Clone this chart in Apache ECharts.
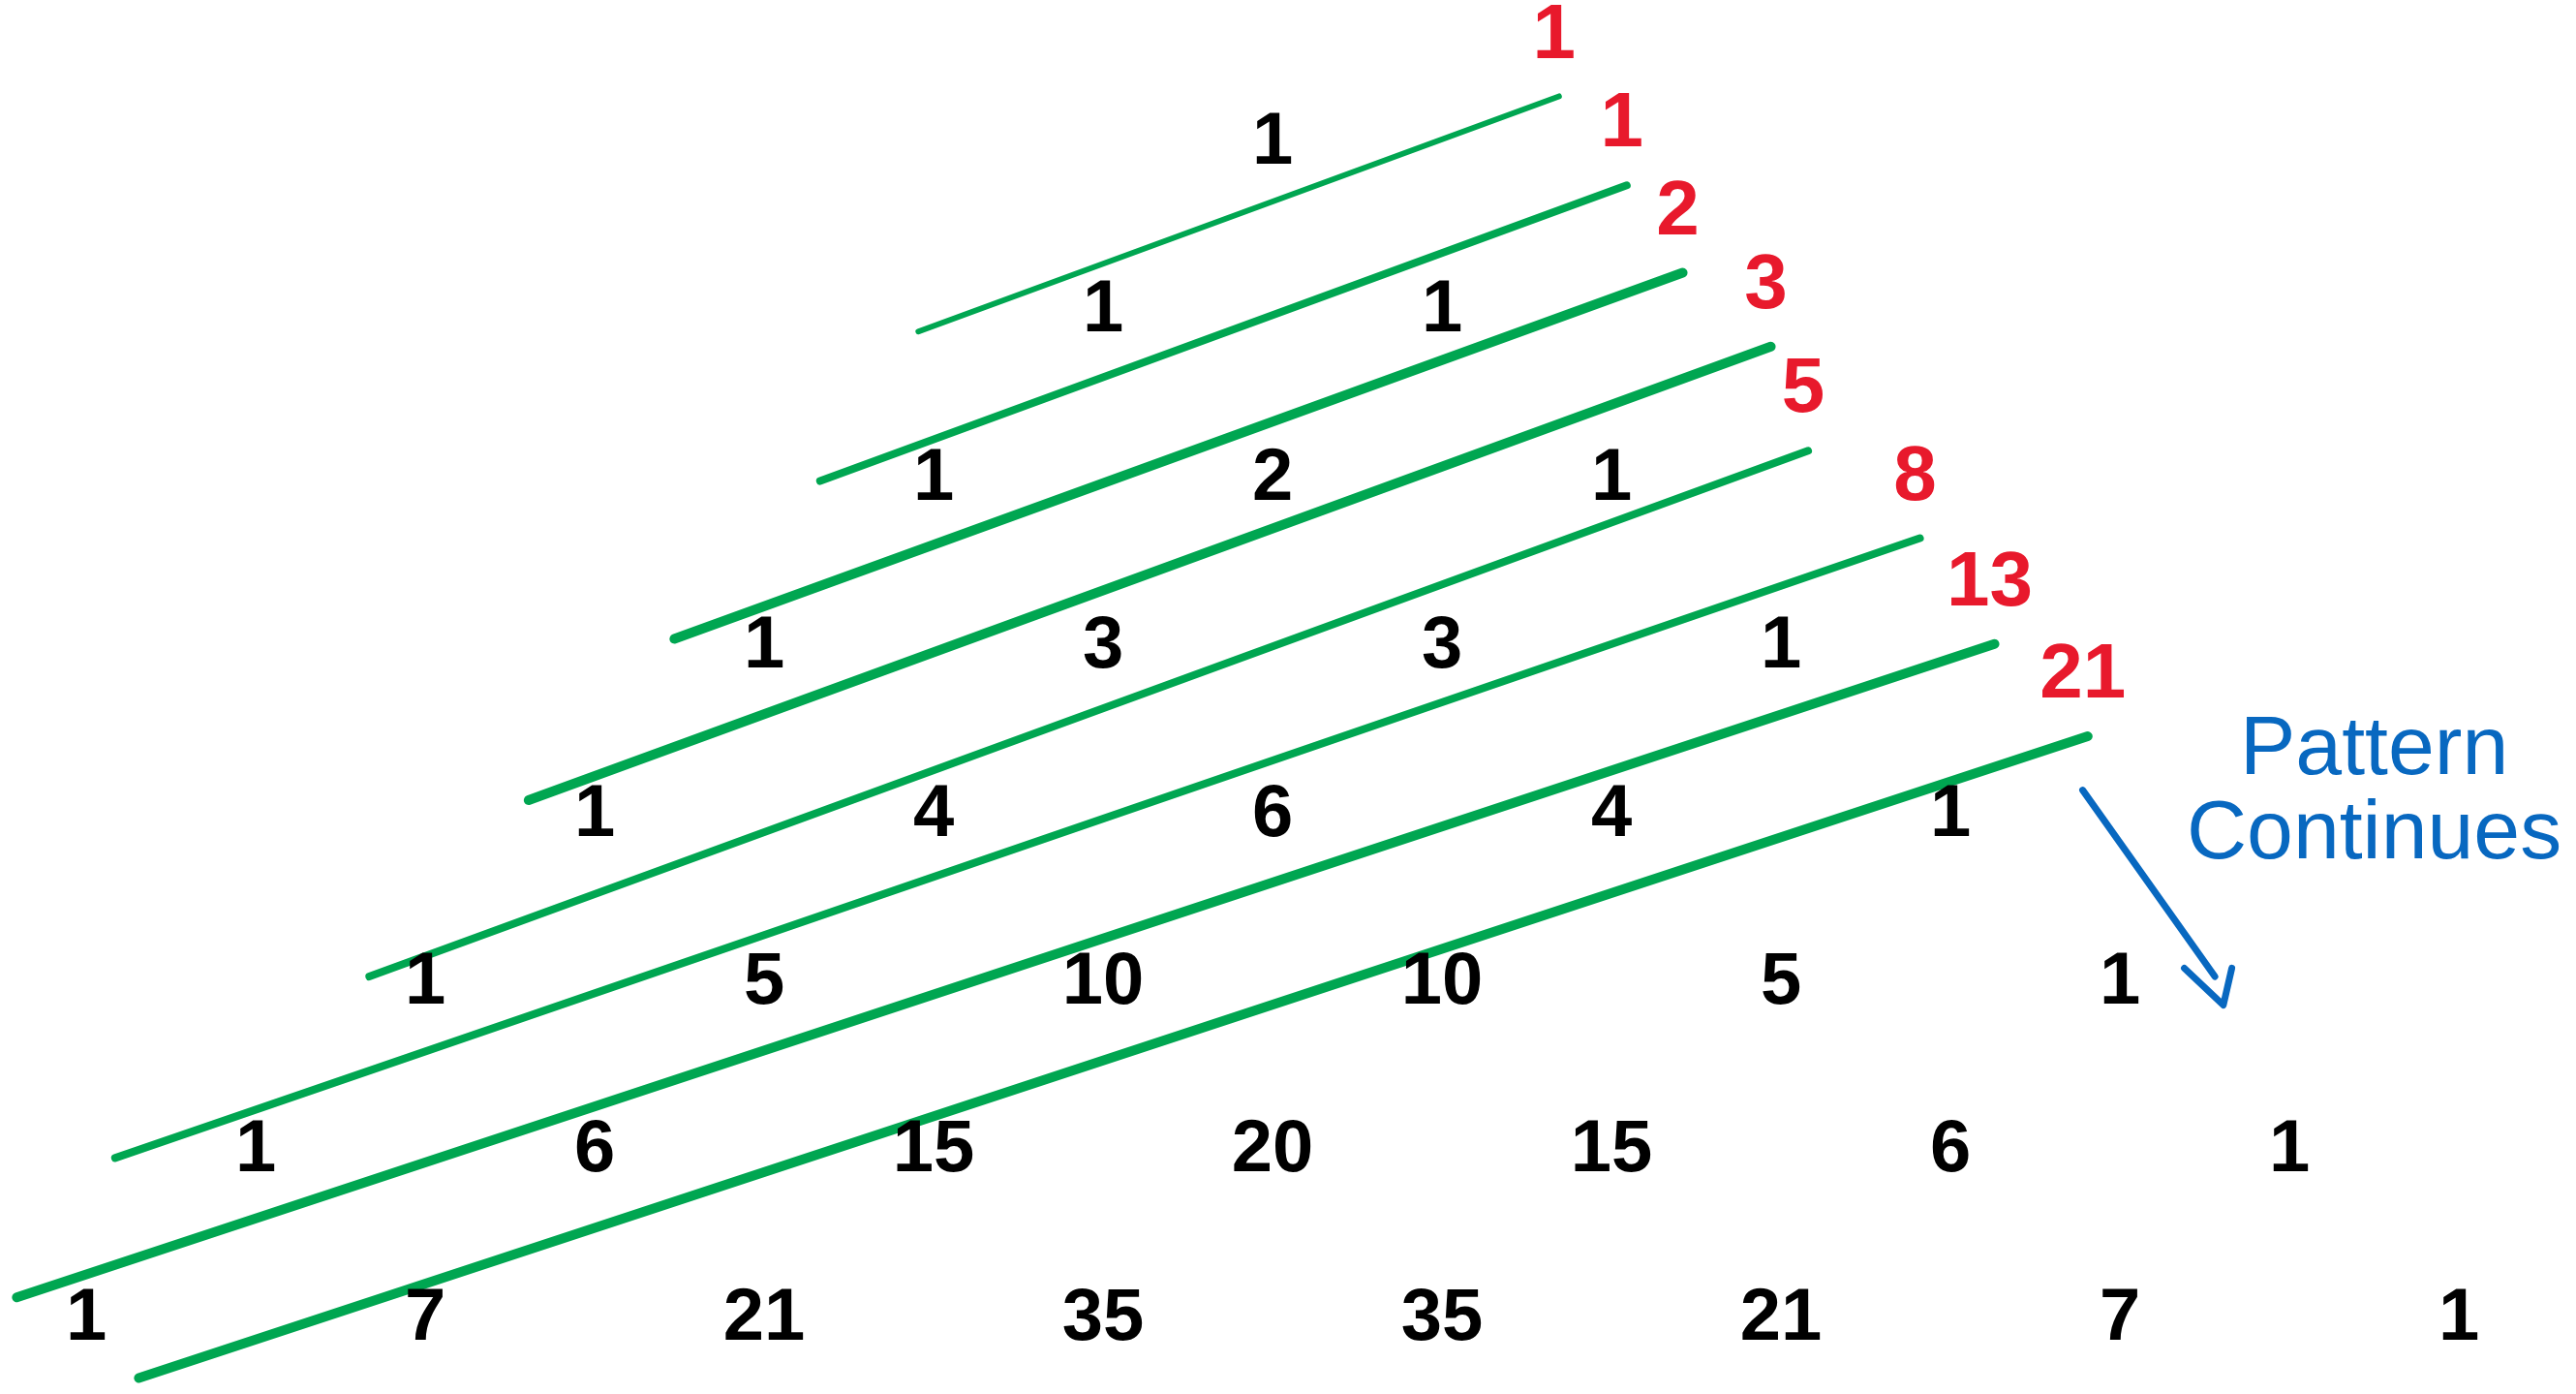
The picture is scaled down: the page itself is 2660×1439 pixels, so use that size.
<!DOCTYPE html>
<html><head><meta charset="utf-8">
<script src="https://cdn.jsdelivr.net/npm/echarts@6/dist/echarts.min.js"></script>
<style>html,body{margin:0;padding:0;background:#fff}#c{width:2660px;height:1439px}</style>
</head><body><div id="c"></div>
<script>
// Pascal's triangle rows
const triangleRows = [
  [1],
  [1, 1],
  [1, 2, 1],
  [1, 3, 3, 1],
  [1, 4, 6, 4, 1],
  [1, 5, 10, 10, 5, 1],
  [1, 6, 15, 20, 15, 6, 1],
  [1, 7, 21, 35, 35, 21, 7, 1]
];
// Sums along the shallow diagonals (Fibonacci numbers, in red)
const diagonalSums = [1, 1, 2, 3, 5, 8, 13, 21];
// Green separator strokes, in triangle units (u = half-column offset, row)
const sepStartU   = [-2.09, -2.67, -3.53, -4.39, -5.33, -6.83, -7.41, -6.69];
const sepStartRow = [ 1.12,  2.01,  2.95,  3.91,  4.96,  6.04,  6.87,  7.35];
const sepEndU     = [ 1.69,  2.09,  2.42,  2.94,  3.16,  3.82,  4.26,  4.81];
const sepEndRow   = [-0.28,  0.25,  0.77,  1.21,  1.83,  2.35,  2.98,  3.53];
// Note and arrow
const noteText = ['Pattern', 'Continues'];
const noteAnchor = [6.5, 3.87];
const arrowShaft = [[4.78, 3.85], [5.56, 4.96]];
const arrowHead = [[5.38, 4.91], [5.61, 5.13], [5.66, 4.91]];

const GREEN = '#00a651', RED = '#e8192c', BLUE = '#0868c0';
const sepWidths = [6, 8, 10, 10, 8, 8, 10, 10];
const NUM_FONT = '"Liberation Sans", Arial, sans-serif';

const numberData = [];
triangleRows.forEach((row, r) => row.forEach((v, k) => numberData.push([2 * k - r, r, v])));
const sumData = diagonalSums.map((s, i) => [sepEndU[i], sepEndRow[i], s]);

const hiddenItem = { color: 'transparent', opacity: 1 };
const series = [];
sepStartU.forEach((u, i) => {
  series.push({
    type: 'line', silent: true, symbol: 'none', z: 2,
    data: [[u, sepStartRow[i]], [sepEndU[i], sepEndRow[i]]],
    lineStyle: { color: GREEN, width: sepWidths[i], cap: 'round', opacity: 1 }
  });
});
series.push({
  type: 'scatter', silent: true, z: 5, symbolSize: 1,
  itemStyle: hiddenItem,
  data: numberData,
  label: {
    show: true, position: 'inside', formatter: p => String(p.value[2]),
    color: '#000000', opacity: 1, fontSize: 76, fontWeight: 'bold',
    fontFamily: NUM_FONT
  }
});
series.push({
  type: 'scatter', silent: true, z: 5, symbolSize: 1,
  itemStyle: hiddenItem,
  data: sumData,
  label: {
    show: true, position: 'inside', offset: [-5, -62], formatter: p => String(p.value[2]),
    color: RED, opacity: 1, fontSize: 80, fontWeight: 'bold',
    fontFamily: NUM_FONT
  }
});
series.push({
  type: 'scatter', silent: true, z: 5, symbolSize: 1,
  itemStyle: hiddenItem,
  data: [[noteAnchor[0], noteAnchor[1]]],
  label: {
    show: true, position: 'inside', formatter: noteText.join('\n'),
    color: BLUE, opacity: 1, fontSize: 86, lineHeight: 87, align: 'center',
    fontFamily: '"Liberation Sans", sans-serif'
  }
});
series.push({
  type: 'line', silent: true, symbol: 'none', z: 3, data: arrowShaft,
  lineStyle: { color: BLUE, width: 7, cap: 'round', opacity: 1 }
});
series.push({
  type: 'line', silent: true, symbol: 'none', z: 3, data: arrowHead,
  lineStyle: { color: BLUE, width: 7, cap: 'round', join: 'round', opacity: 1 }
});

const chart = echarts.init(document.getElementById('c'));
chart.setOption({
  backgroundColor: '#ffffff',
  animation: false,
  grid: { left: 0, right: 0, top: 0, bottom: 0 },
  xAxis: { type: 'value', min: -7.509, max: 7.691, show: false },
  yAxis: { type: 'value', inverse: true, min: -0.8535, max: 7.445, show: false },
  series: series
});
</script>
</body></html>
